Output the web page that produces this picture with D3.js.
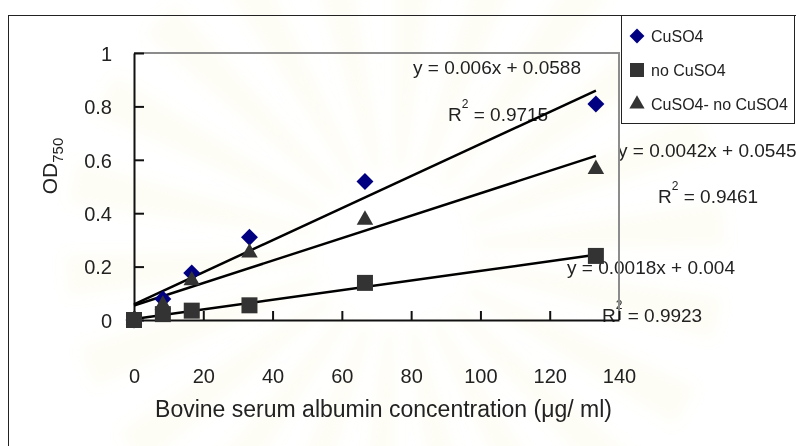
<!DOCTYPE html>
<html>
<head>
<meta charset="utf-8">
<script src="https://cdn.jsdelivr.net/npm/d3@7"></script>
<style>
  html, body { margin: 0; padding: 0; background: #fff; }
  svg { display: block; font-family: "Liberation Sans", Arial, sans-serif; }
</style>
</head>
<body>
<svg id="chart" width="796" height="446"></svg>
<script>
// BSA concentrations (µg/ml) and OD750 readings
const concentrations = [0, 8.33, 16.67, 33.33, 66.67, 133.33];
const odCuSO4 = [0, 0.079, 0.176, 0.31, 0.519, 0.809];
const odNoCuSO4 = [0, 0.022, 0.035, 0.055, 0.139, 0.24];
const odDifference = [0, 0.057, 0.148, 0.252, 0.375, 0.565];

const seriesNames = ["CuSO4", "no CuSO4", "CuSO4- no CuSO4"];
const seriesColors = ["#000080", "#333333", "#333333"];

// Linear fits (slope, intercept, R²) in series order
const fitSlopes = [0.006, 0.0018, 0.0042];
const fitIntercepts = [0.0588, 0.004, 0.0545];
const fitR2 = ["0.9715", "0.9923", "0.9461"];

const xTicks = [0, 20, 40, 60, 80, 100, 120, 140];
const yTicks = [0, 0.2, 0.4, 0.6, 0.8, 1];

const svg = d3.select("#chart");
const W = 796, H = 446;
const plot = { left: 134, top: 53, right: 619, bottom: 320 };

const x = d3.scaleLinear().domain([0, 140]).range([plot.left, plot.right]);
const y = d3.scaleLinear().domain([0, 1]).range([plot.bottom, plot.top]);

// faint, soft sunburst behind the chart
const defs = svg.append("defs");
defs.append("filter").attr("id", "soft")
  .attr("x", "-20%").attr("y", "-20%").attr("width", "140%").attr("height", "140%")
  .append("feGaussianBlur").attr("stdDeviation", 7);
const rays = svg.append("g")
  .attr("transform", "translate(395,250)")
  .attr("filter", "url(#soft)");
const rayCount = 22;
for (let i = 0; i < rayCount; i++) {
  const a0 = (i / rayCount) * Math.PI * 2;
  rays.append("path")
    .attr("d", d3.arc()({ innerRadius: 80, outerRadius: 330, startAngle: a0, endAngle: a0 + 0.13 }))
    .attr("fill", "#f0e2a8")
    .attr("opacity", 0.11);
}

// chart outer frame
svg.append("rect")
  .attr("x", 8.5).attr("y", 15.5)
  .attr("width", W + 20).attr("height", H + 20)
  .attr("fill", "none").attr("stroke", "#222").attr("stroke-width", 1);

const textColor = "#222";

// regression equation labels
const eqData = [
  { ex: 413, ey: 74, rx: 448, ry: 121 },
  { ex: 567, ey: 274, rx: 602, ry: 322 },
  { ex: 618, ey: 157, rx: 658, ry: 203 }
];
const eqG = svg.append("g").attr("font-size", 19).attr("fill", textColor);
eqData.forEach((d, i) => {
  eqG.append("text").attr("x", d.ex).attr("y", d.ey)
    .text(`y = ${fitSlopes[i]}x + ${fitIntercepts[i]}`);
  const r = eqG.append("text").attr("x", d.rx).attr("y", d.ry);
  r.append("tspan").text("R");
  r.append("tspan").attr("font-size", 12).attr("dy", -13).text("2");
  r.append("tspan").attr("dy", 13).text(" = " + fitR2[i]);
});

// plot-area border (grey top and right)
svg.append("path")
  .attr("d", `M${plot.left},${plot.top}H${plot.right}V${plot.bottom}`)
  .attr("fill", "none").attr("stroke", "#8c8c8c").attr("stroke-width", 2);

// axes
const yAxis = d3.axisLeft(y).tickValues(yTicks)
  .tickFormat(d3.format("~g")).tickSize(-10).tickSizeOuter(0).tickPadding(22);
const xAxis = d3.axisBottom(x).tickValues(xTicks)
  .tickFormat(d3.format("~g")).tickSize(-9).tickSizeOuter(0).tickPadding(49);

const gy = svg.append("g").attr("transform", `translate(${plot.left},0)`).call(yAxis);
const gx = svg.append("g").attr("transform", `translate(0,${plot.bottom})`).call(xAxis);
[gx, gy].forEach(g => {
  g.selectAll("path, line").attr("stroke", "#111").attr("stroke-width", 2);
  g.selectAll("text").attr("font-size", 20).attr("fill", textColor)
    .attr("font-family", "Liberation Sans, Arial, sans-serif");
});
gy.selectAll("text").attr("dy", "0.36em");

// axis titles
svg.append("text")
  .attr("x", (plot.left + plot.right) / 2 + 7).attr("y", 417)
  .attr("text-anchor", "middle").attr("font-size", 23).attr("fill", textColor)
  .text("Bovine serum albumin concentration (μg/ ml)");

const yt = svg.append("text")
  .attr("transform", "translate(57,166) rotate(-90)")
  .attr("text-anchor", "middle").attr("font-size", 21).attr("fill", textColor);
yt.append("tspan").text("OD");
yt.append("tspan").attr("font-size", 15).attr("dy", 6).text("750");

// trend lines
const lineG = svg.append("g");
fitSlopes.forEach((m, i) => {
  const x0 = concentrations[0], x1 = concentrations[concentrations.length - 1];
  lineG.append("line")
    .attr("x1", x(x0)).attr("y1", y(m * x0 + fitIntercepts[i]))
    .attr("x2", x(x1)).attr("y2", y(m * x1 + fitIntercepts[i]))
    .attr("stroke", "#000").attr("stroke-width", 2.5);
});

// markers
const symbols = [
  d3.symbol().type(d3.symbolSquare).size(144),
  d3.symbol().type(d3.symbolSquare).size(256),
  d3.symbol().type(d3.symbolTriangle).size(118)
];
const rotations = [45, 0, 0];
const seriesValues = [odCuSO4, odNoCuSO4, odDifference];
seriesValues.forEach((vals, i) => {
  svg.append("g").selectAll("path")
    .data(vals.map((v, j) => [concentrations[j], v]))
    .join("path")
    .attr("d", symbols[i])
    .attr("transform", d => `translate(${x(d[0])},${y(d[1])}) rotate(${rotations[i]})`)
    .attr("fill", seriesColors[i]);
});

// legend
const lg = svg.append("g");
lg.append("rect").attr("x", 621.5).attr("y", 15.5).attr("width", 173).attr("height", 108)
  .attr("fill", "#fff").attr("stroke", "#222").attr("stroke-width", 1);
const legendSymbols = [
  d3.symbol().type(d3.symbolSquare).size(110),
  d3.symbol().type(d3.symbolSquare).size(196),
  d3.symbol().type(d3.symbolTriangle).size(100)
];
seriesNames.forEach((name, i) => {
  const cy = 36 + i * 34;
  lg.append("path").attr("d", legendSymbols[i])
    .attr("transform", `translate(637,${cy}) rotate(${rotations[i]})`)
    .attr("fill", seriesColors[i]);
  lg.append("text").attr("x", 651).attr("y", cy + 6)
    .attr("font-size", 16).attr("fill", textColor).text(name);
});
</script>
</body>
</html>
